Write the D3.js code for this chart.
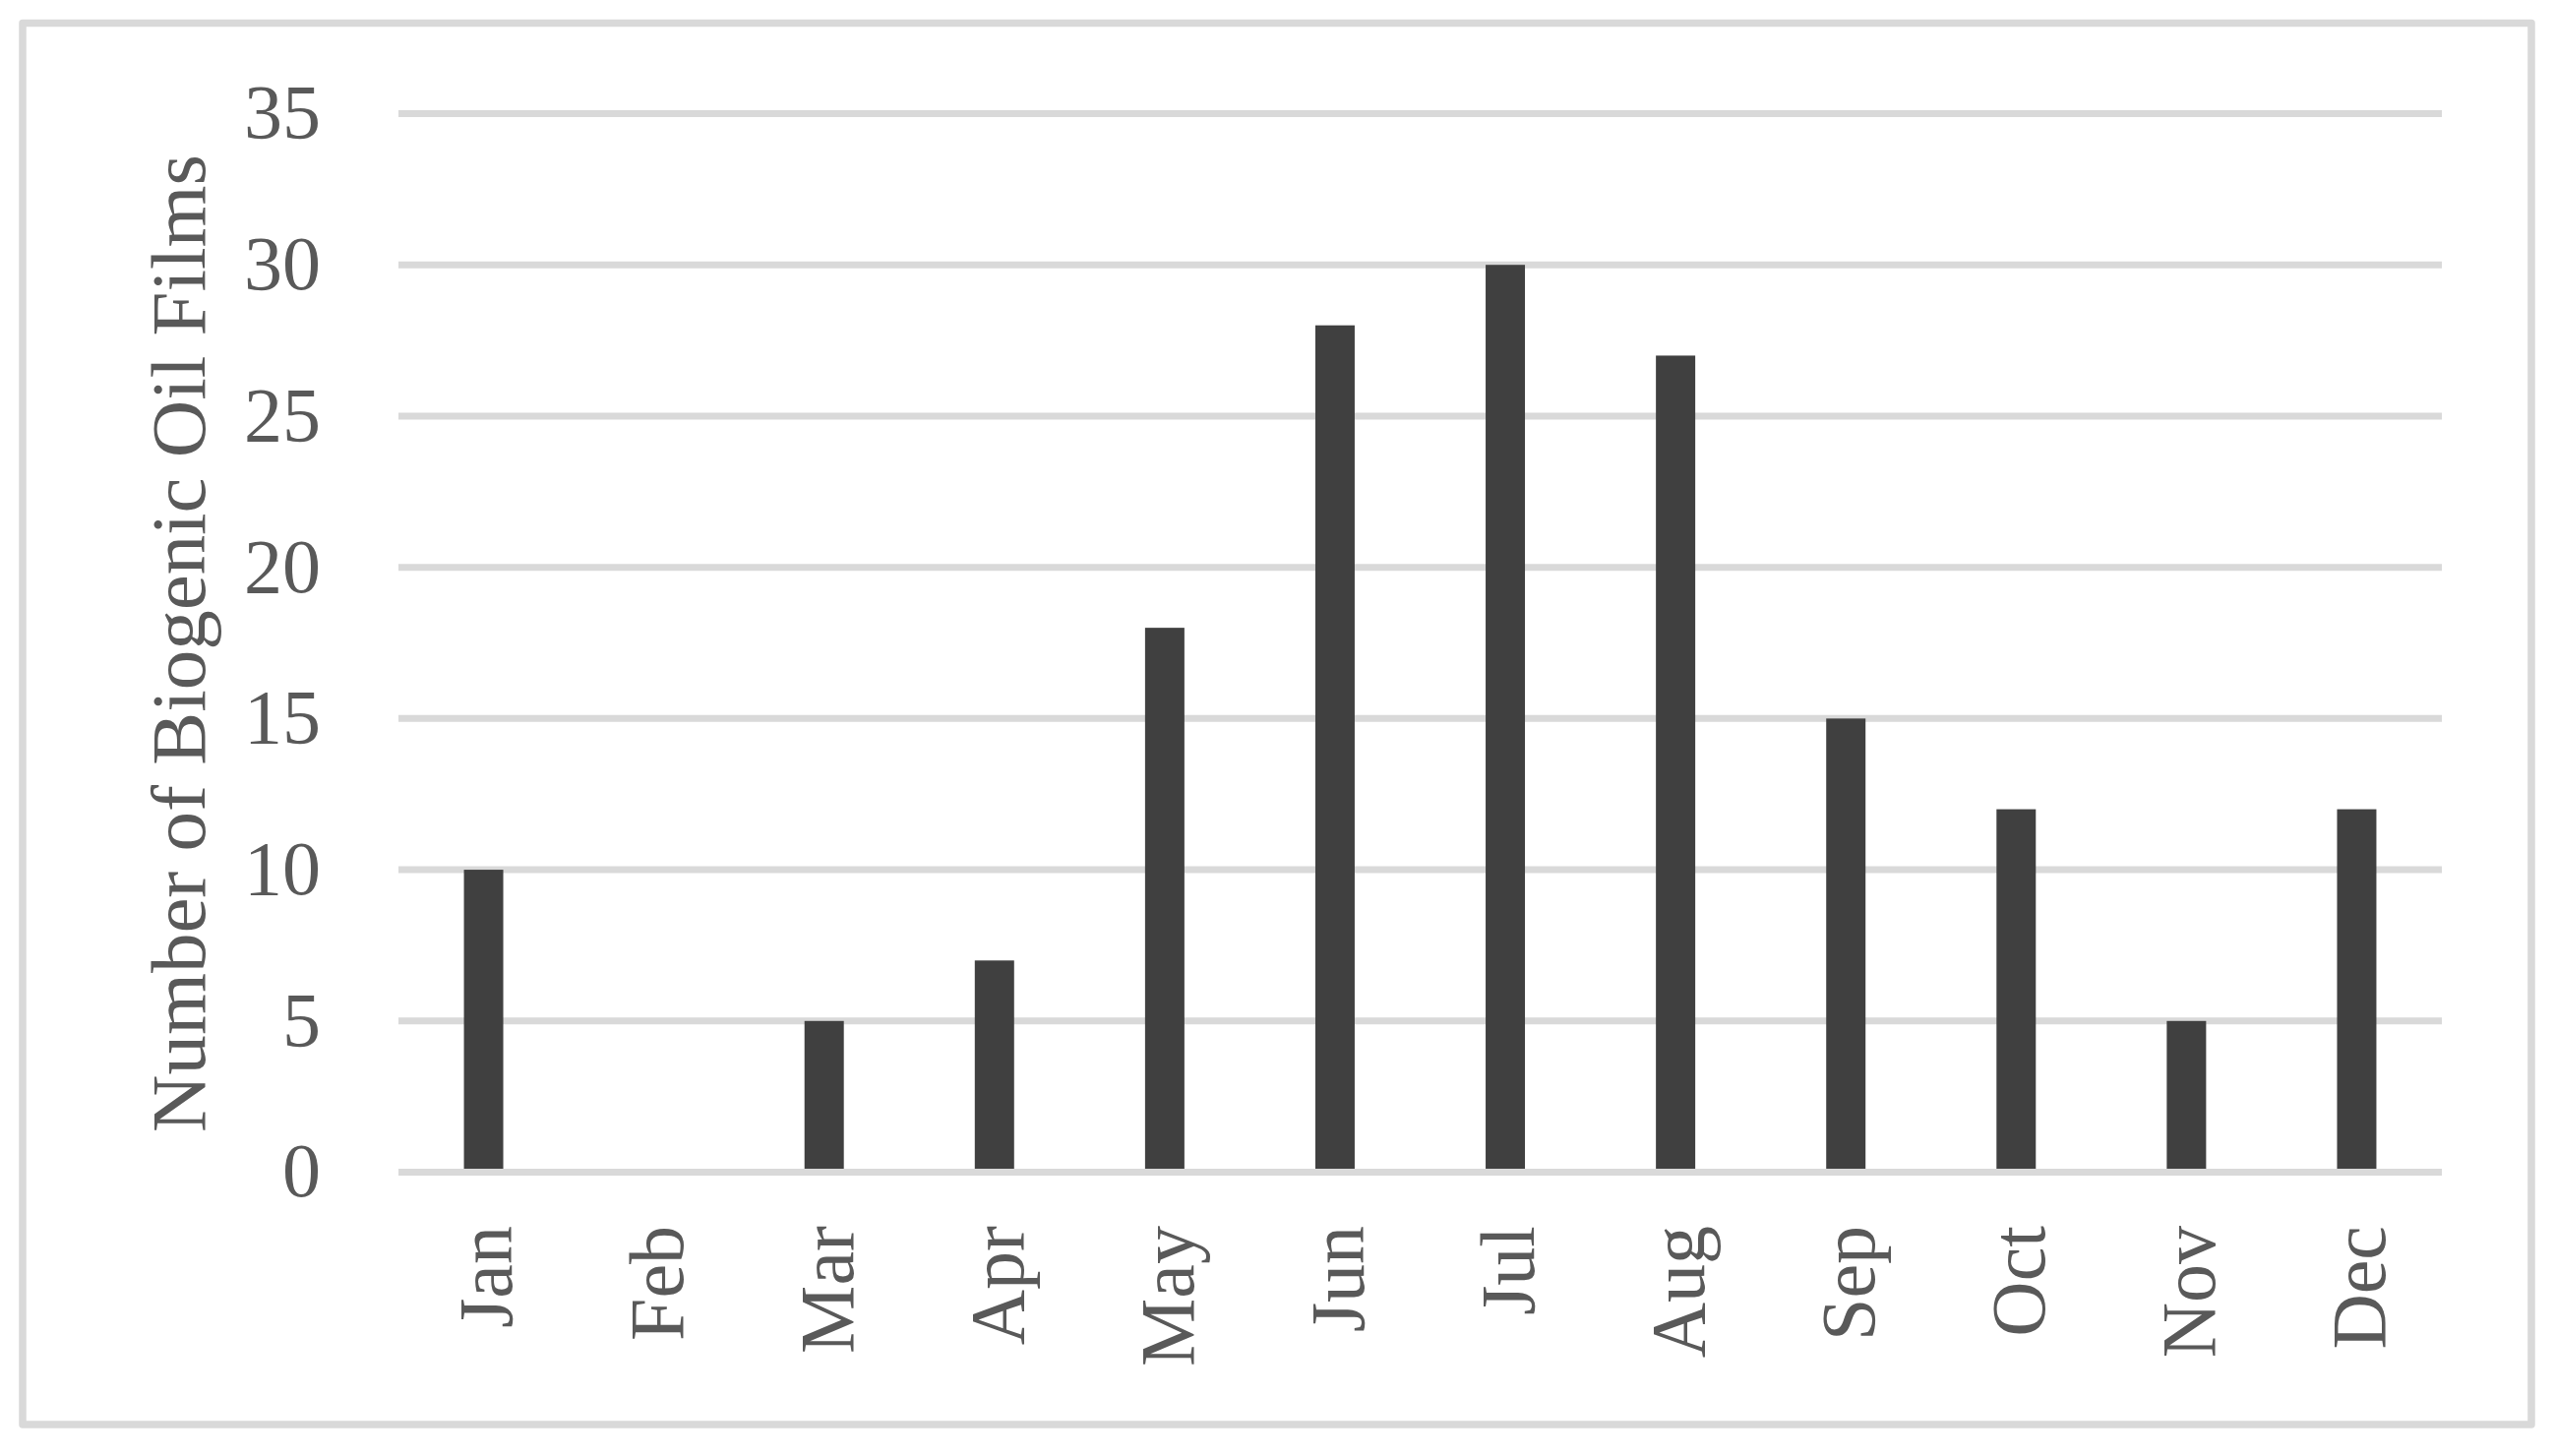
<!DOCTYPE html>
<html>
<head>
<meta charset="utf-8">
<script src="https://cdn.jsdelivr.net/npm/d3@7"></script>
<style>
  html, body { margin: 0; padding: 0; background: #ffffff; }
  svg { display: block; }
  text { font-family: "Liberation Serif", "Times New Roman", serif; fill: #595959; }
</style>
</head>
<body>
<svg id="chart" width="2597" height="1480"></svg>
<script>
const months = ["Jan","Feb","Mar","Apr","May","Jun","Jul","Aug","Sep","Oct","Nov","Dec"];
const counts = [10, 0, 5, 7, 18, 28, 30, 27, 15, 12, 5, 12];
const yTicks = [0, 5, 10, 15, 20, 25, 30, 35];
const yTitle = "Number of Biogenic Oil Films";

const svg = d3.select("#chart");
const W = 2597, H = 1480;

svg.append("rect").attr("x", 0).attr("y", 0).attr("width", W).attr("height", H).attr("fill", "#fff");

// outer frame
svg.append("rect")
  .attr("x", 23).attr("y", 23.5)
  .attr("width", 2550).attr("height", 1424.5)
  .attr("fill", "none")
  .attr("stroke", "#d9d9d9")
  .attr("stroke-width", 7.5)
  .attr("stroke-linejoin", "round");

const x = d3.scaleBand()
  .domain(months)
  .range([405, 2482])
  .paddingInner(0.769)
  .paddingOuter(0.3845);

const y = d3.scaleLinear().domain([0, 35]).range([1191.5, 115.5]);

// gridlines
const gridG = svg.append("g").attr("class", "grid");
gridG.selectAll("line").data(yTicks.filter(d => d !== 0)).join("line")
  .attr("x1", 405).attr("x2", 2482)
  .attr("y1", d => y(d)).attr("y2", d => y(d))
  .attr("stroke", "#d9d9d9").attr("stroke-width", 7);

// bars
svg.append("g").selectAll("rect").data(months).join("rect")
  .attr("x", (d) => x(d))
  .attr("width", x.bandwidth())
  .attr("y", (d, i) => y(counts[i]))
  .attr("height", (d, i) => y(0) - y(counts[i]))
  .attr("fill", "#404040");

// zero line
svg.append("line")
  .attr("x1", 405).attr("x2", 2482)
  .attr("y1", y(0)).attr("y2", y(0))
  .attr("stroke", "#d9d9d9").attr("stroke-width", 7);

// y tick labels
svg.append("g").selectAll("text").data(yTicks).join("text")
  .attr("x", 326)
  .attr("y", d => y(d))
  .attr("dy", "0.32em")
  .attr("text-anchor", "end")
  .attr("font-size", 78)
  .text(d => d);

// x labels (rotated)
svg.append("g").selectAll("text").data(months).join("text")
  .attr("transform", d => `translate(${x(d) + x.bandwidth() / 2},1246) rotate(-90)`)
  .attr("text-anchor", "end")
  .attr("dy", "0.37em")
  .attr("font-size", 78)
  .text(d => d);

// y axis title
svg.append("text")
  .attr("transform", "translate(208,654) rotate(-90)")
  .attr("text-anchor", "middle")
  .attr("font-size", 78)
  .attr("textLength", 994)
  .attr("lengthAdjust", "spacingAndGlyphs")
  .text(yTitle);
</script>
</body>
</html>
